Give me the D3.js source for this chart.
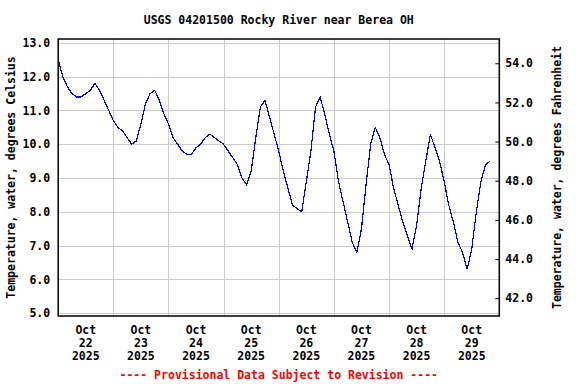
<!DOCTYPE html>
<html>
<head>
<meta charset="utf-8">
<script src="https://cdn.jsdelivr.net/npm/d3@7"></script>
<style>
	body { margin: 0; background: #fff; }
	text { font-family: 'DejaVu Sans Mono', 'Liberation Mono', monospace; font-weight: bold; font-size: 11.5px; }
</style>
</head>
<body>
<script>

var title = 'USGS 04201500 Rocky River near Berea OH';
var leftLabel = 'Temperature, water, degrees Celsius';
var rightLabel = 'Temperature, water, degrees Fahrenheit';
var footnote = '---- Provisional Data Subject to Revision ----';

// readings every 2 hours, starting Oct 22 2025 00:00
var startTime = new Date(2025, 9, 22, 0, 0);
var stepHours = 2;
var tempC = [
	12.5, 12.0, 11.7, 11.5, 11.4, 11.4, 11.5, 11.6, 11.8, 11.6, 11.3, 11.0,  // oct 22
	10.7, 10.5, 10.4, 10.2, 10.0, 10.1, 10.6, 11.2, 11.5, 11.6, 11.3, 10.9,  // oct 23
	10.6, 10.2, 10.0, 9.8, 9.7, 9.7, 9.9, 10.0, 10.2, 10.3, 10.2, 10.1,      // oct 24
	10.0, 9.8, 9.6, 9.4, 9.0, 8.8, 9.2, 10.2, 11.1, 11.3, 10.8, 10.3,        // oct 25
	9.8, 9.2, 8.7, 8.2, 8.1, 8.0, 8.9, 9.8, 11.1, 11.4, 10.9, 10.3,          // oct 26
	9.8, 8.9, 8.3, 7.7, 7.1, 6.8, 7.5, 8.8, 10.0, 10.5, 10.2, 9.7,           // oct 27
	9.4, 8.7, 8.2, 7.7, 7.3, 6.9, 7.6, 8.7, 9.5, 10.3, 9.9, 9.5,             // oct 28
	8.9, 8.2, 7.7, 7.1, 6.8, 6.3, 6.9, 8.0, 8.9, 9.4, 9.5                    // oct 29
];

var celsiusTicks = [5, 6, 7, 8, 9, 10, 11, 12, 13];
var fahrenheitTicks = [42, 44, 46, 48, 50, 52, 54];
var dayStarts = ['2025-10-22', '2025-10-23', '2025-10-24', '2025-10-25', '2025-10-26', '2025-10-27', '2025-10-28', '2025-10-29', '2025-10-30'];

var width = 576;
var height = 384;
// plot box (can't call it "top", that's window.top)
var pLeft = 58.2, pRight = 499.3, pTop = 39, pBottom = 316;

var parseDay = d3.timeParse('%Y-%m-%d');
var days = dayStarts.map(parseDay);

var data = tempC.map(function(v, i) {
	return { time: d3.timeHour.offset(startTime, i * stepHours), value: v };
});

var xScale = d3.scaleTime()
	.domain([days[0], days[days.length - 1]])
	.range([pLeft, pRight]);

var yScale = d3.scaleLinear()
	.domain([4.92, 13.115])
	.range([pBottom, pTop]);

var fScale = d3.scaleLinear()
	.domain([41.09, 55.24])
	.range([pBottom, pTop]);

var svg = d3.select('body').append('svg')
	.attr('width', width)
	.attr('height', height);

// grid
svg.append('g')
	.selectAll('line')
	.data(celsiusTicks)
	.enter().append('line')
		.attr('x1', pLeft).attr('x2', pRight)
		.attr('y1', function(d) { return Math.round(yScale(d)) + 0.5; })
		.attr('y2', function(d) { return Math.round(yScale(d)) + 0.5; })
		.attr('stroke', '#cccccc');

svg.append('g')
	.selectAll('line')
	.data(days.slice(1, -1))
	.enter().append('line')
		.attr('x1', function(d) { return Math.round(xScale(d)) + 0.5; })
		.attr('x2', function(d) { return Math.round(xScale(d)) + 0.5; })
		.attr('y1', pTop).attr('y2', pBottom)
		.attr('stroke', '#cccccc');

// the line
var line = d3.line()
	.x(function(d) { return xScale(d.time); })
	.y(function(d) { return yScale(d.value); });

svg.append('path')
	.datum(data)
	.attr('d', line)
	.attr('fill', 'none')
	.attr('stroke', '#0000ff')
	.attr('stroke-width', 1.2)
	.style('shape-rendering', 'crispEdges');

// frame
svg.append('rect')
	.attr('x', pLeft).attr('y', pTop)
	.attr('width', pRight - pLeft).attr('height', pBottom - pTop)
	.attr('fill', 'none')
	.attr('stroke', '#000')
	.attr('stroke-width', 1.5);

// left axis
var yAxis = d3.axisLeft(yScale)
	.tickValues(celsiusTicks)
	.tickSize(0)
	.tickPadding(8)
	.tickFormat(d3.format('.1f'));

var gy = svg.append('g')
	.attr('transform', 'translate(' + pLeft + ',0)')
	.call(yAxis);
gy.select('.domain').remove();
gy.selectAll('text').attr('fill', '#000').style('font-size', '11.5px').style('font-family', null);
gy.attr('font-family', null).attr('font-size', null);

// right axis, ticks point inward
var fAxis = d3.axisRight(fScale)
	.tickValues(fahrenheitTicks)
	.tickSizeInner(-4)
	.tickSizeOuter(0)
	.tickPadding(10)
	.tickFormat(d3.format('.1f'));

var gf = svg.append('g')
	.attr('transform', 'translate(' + pRight + ',0)')
	.call(fAxis);
gf.select('.domain').remove();
gf.selectAll('line').attr('stroke', '#000');
gf.selectAll('text').attr('fill', '#000').attr('x', 6);
gf.attr('font-family', null).attr('font-size', null);

// date labels at noon
var noon = days.slice(0, -1).map(function(d) { return d3.timeHour.offset(d, 12); });
var fmtLines = [d3.timeFormat('%b'), d3.timeFormat('%d'), d3.timeFormat('%Y')];

var labels = svg.append('g')
	.selectAll('text')
	.data(noon)
	.enter().append('text')
		.attr('text-anchor', 'middle')
		.attr('x', function(d) { return xScale(d); })
		.attr('y', 334);

fmtLines.forEach(function(f, i) {
	labels.append('tspan')
		.attr('x', function(d) { return xScale(d); })
		.attr('dy', i == 0 ? 0 : 12.8)
		.text(function(d) { return f(d); });
});

// titles
var midX = (pLeft + pRight) / 2;
var midY = (pTop + pBottom) / 2;

svg.append('text')
	.attr('x', midX).attr('y', 24)
	.attr('text-anchor', 'middle')
	.text(title);

svg.append('text')
	.attr('transform', 'translate(11,' + midY + ') rotate(-90)')
	.attr('text-anchor', 'middle')
	.attr('dominant-baseline', 'central')
	.text(leftLabel);

svg.append('text')
	.attr('transform', 'translate(556.5,' + midY + ') rotate(-90)')
	.attr('text-anchor', 'middle')
	.attr('dominant-baseline', 'central')
	.text(rightLabel);

svg.append('text')
	.attr('x', midX).attr('y', 379)
	.attr('text-anchor', 'middle')
	.attr('fill', '#ff0000')
	.text(footnote);

</script>
</body>
</html>
